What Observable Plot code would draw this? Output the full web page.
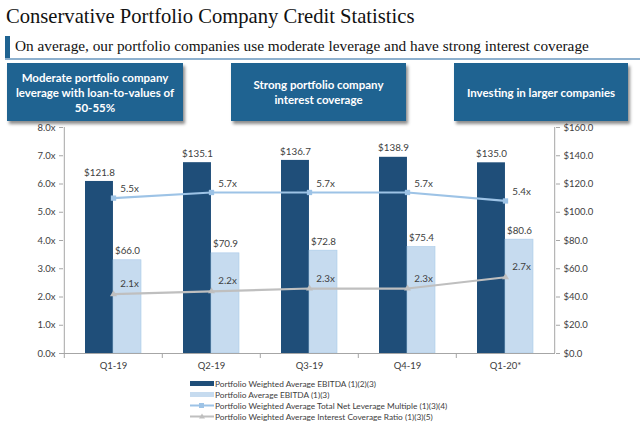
<!DOCTYPE html>
<html>
<head>
<meta charset="utf-8">
<script src="https://cdn.jsdelivr.net/npm/d3@7"></script>
<script src="https://cdn.jsdelivr.net/npm/@observablehq/plot@0.6"></script>
<style>
  html, body { margin: 0; padding: 0; background: #fff; }
  #page { position: relative; width: 640px; height: 426px; overflow: hidden; font-family: Lato, "Liberation Sans", sans-serif; }
  #title { position: absolute; left: 6px; top: 5px; font-family: "Liberation Serif", serif; font-size: 20.6px; color: #111; white-space: nowrap; }
  #marker { position: absolute; left: 5px; top: 36px; width: 5px; height: 23px; background: #1F6391; }
  #subtitle { position: absolute; left: 15px; top: 37px; font-family: "Liberation Serif", serif; font-size: 15.3px; color: #111; white-space: nowrap; }
  #rule { position: absolute; left: 5px; top: 58px; width: 635px; height: 2px; background: #8DB0CE; }
  .box { position: absolute; top: 63px; height: 58px; background: #1F6391; color: #fff; font-weight: bold; font-size: 11.5px; line-height: 15px; text-align: center; display: flex; align-items: center; justify-content: center; box-shadow: 2px 3px 3px rgba(0,0,0,0.45); }
  #chart { position: absolute; left: 0; top: 112px; }
  #legend { position: absolute; left: 190px; top: 378px; font-size: 8.3px; color: #404040; }
  .row { height: 11px; display: flex; align-items: center; white-space: nowrap; }
  .sw { width: 24px; height: 11px; margin-right: 1px; position: relative; }
</style>
</head>
<body>
<div id="page">
  <div id="title">Conservative Portfolio Company Credit Statistics</div>
  <div id="marker"></div>
  <div id="subtitle">On average, our portfolio companies use moderate leverage and have strong interest coverage</div>
  <div id="rule"></div>
  <div class="box" style="left:7px;width:176px;">Moderate portfolio company<br>leverage with loan-to-values of<br>50-55%</div>
  <div class="box" style="left:231px;width:175px;">Strong portfolio company<br>interest coverage</div>
  <div class="box" style="left:454px;width:174px;">Investing in larger companies</div>
  <div id="chart"></div>
  <div id="legend"></div>
</div>
<script>
// ---- data ----
const quarters = ["Q1-19", "Q2-19", "Q3-19", "Q4-19", "Q1-20*"];
const weightedEbitda = [121.8, 135.1, 136.7, 138.9, 135.0];   // $ (right axis)
const averageEbitda = [66.0, 70.9, 72.8, 75.4, 80.6];          // $ (right axis)
const netLeverage = [5.5, 5.7, 5.7, 5.7, 5.4];                 // x (left axis)
const interestCoverage = [2.1, 2.2, 2.3, 2.3, 2.7];            // x (left axis)
const leftTicks = [0, 1, 2, 3, 4, 5, 6, 7, 8];
const rightTicks = [0, 20, 40, 60, 80, 100, 120, 140, 160];
const seriesNames = [
  "Portfolio Weighted Average EBITDA (1)(2)(3)",
  "Portfolio Average EBITDA (1)(3)",
  "Portfolio Weighted Average Total Net Leverage Multiple (1)(3)(4)",
  "Portfolio Weighted Average Interest Coverage Ratio (1)(3)(5)"
];

const ratio = rightTicks[rightTicks.length - 1] / leftTicks[leftTicks.length - 1]; // $ per x
const rows = quarters.map((q, i) => ({
  q, w: weightedEbitda[i], a: averageEbitda[i], lev: netLeverage[i], cov: interestCoverage[i]
}));

const W = 640, H = 265, mL = 63, mR = 85, mT = 15, mB = 24;
const pIn = 0.43, pOut = 0.215;
const step = (W - mL - mR) / (quarters.length - pIn + 2 * pOut);
const bw = step * (1 - pIn);

const dark = "#1F4E79", light = "#C6DBEF", levColor = "#9DC3E6", covColor = "#BFBFBF";
const axisColor = "#A6A6A6", labelColor = "#404040";

const chart = Plot.plot({
  width: W, height: H,
  marginLeft: mL, marginRight: mR, marginTop: mT, marginBottom: mB,
  style: { fontFamily: "Lato, 'Liberation Sans', sans-serif", fontSize: "9px", color: labelColor, background: "transparent" },
  x: { type: "band", domain: quarters, paddingInner: pIn, paddingOuter: pOut },
  y: { domain: [leftTicks[0], leftTicks[leftTicks.length - 1]] },
  marks: [
    Plot.barY(rows, { x: "q", y: d => d.w / ratio, fill: dark, insetRight: bw / 2 }),
    Plot.barY(rows, { x: "q", y: d => d.a / ratio, fill: light, stroke: "#A9CBE8", strokeWidth: 0.6, insetLeft: bw / 2 }),
    // axis lines
    Plot.ruleY([0], { stroke: axisColor }),
    Plot.ruleX([quarters[0]], { dx: -step / 2, stroke: axisColor }),
    Plot.ruleX([quarters[quarters.length - 1]], { dx: step / 2, stroke: axisColor }),
    // axes
    Plot.axisY({ anchor: "left", label: null, ticks: leftTicks, tickFormat: d => d.toFixed(1) + "x", tickSize: 4, tickPadding: 4, stroke: axisColor, fill: "#404040", fontSize: 9.5 }),
    Plot.axisY({ anchor: "right", label: null, ticks: rightTicks.map(d => d / ratio), tickFormat: d => "$" + (d * ratio).toFixed(1), tickSize: 4, tickPadding: 4, stroke: axisColor, fill: "#404040", fontSize: 9.5 }),
    Plot.axisX({ label: null, tickSize: 0, tickPadding: 9, fill: "#404040", fontSize: 9.5 }),
    Plot.axisX({ label: null, tickSize: 5, tickFormat: () => "", dx: -step / 2, stroke: axisColor }),
    // lines
    Plot.line(rows, { x: "q", y: "lev", stroke: levColor, strokeWidth: 2.2 }),
    Plot.dot(rows, { x: "q", y: "lev", symbol: "square", r: 3, fill: levColor }),
    Plot.line(rows, { x: "q", y: "cov", stroke: covColor, strokeWidth: 2.2 }),
    Plot.dot(rows, { x: "q", y: "cov", symbol: "triangle", r: 2.6, fill: covColor }),
    // value labels
    Plot.text(rows, { x: "q", y: d => d.w / ratio, text: d => "$" + d.w.toFixed(1), dx: -bw / 4, dy: -9, fill: labelColor, fontSize: 9.8 }),
    Plot.text(rows, { x: "q", y: d => d.a / ratio, text: d => "$" + d.a.toFixed(1), dx: bw / 4, dy: -9, fill: labelColor, fontSize: 9.8 }),
    Plot.text(rows, { x: "q", y: "lev", text: d => d.lev.toFixed(1) + "x", dx: 16, dy: -9, fill: labelColor, fontSize: 9.8 }),
    Plot.text(rows, { x: "q", y: "cov", text: d => d.cov.toFixed(1) + "x", dx: 16, dy: -10, fill: labelColor, fontSize: 9.8 })
  ]
});
document.getElementById("chart").appendChild(chart);

// legend
const legend = document.getElementById("legend");
const swatches = [
  `<svg width="24" height="11"><rect x="0" y="3" width="24" height="5" fill="${dark}"/></svg>`,
  `<svg width="24" height="11"><rect x="0" y="3" width="24" height="5" fill="${light}"/></svg>`,
  `<svg width="24" height="11"><line x1="0" x2="24" y1="5.5" y2="5.5" stroke="${levColor}" stroke-width="2"/><rect x="9" y="3" width="5" height="5" fill="${levColor}"/></svg>`,
  `<svg width="24" height="11"><line x1="0" x2="24" y1="5.5" y2="5.5" stroke="${covColor}" stroke-width="2"/><path d="M12,2.5 L15,7.5 L9,7.5 Z" fill="${covColor}"/></svg>`
];
seriesNames.forEach((name, i) => {
  const row = document.createElement("div");
  row.className = "row";
  row.innerHTML = `<span class="sw">${swatches[i]}</span><span>${name}</span>`;
  legend.appendChild(row);
});
</script>
</body>
</html>
